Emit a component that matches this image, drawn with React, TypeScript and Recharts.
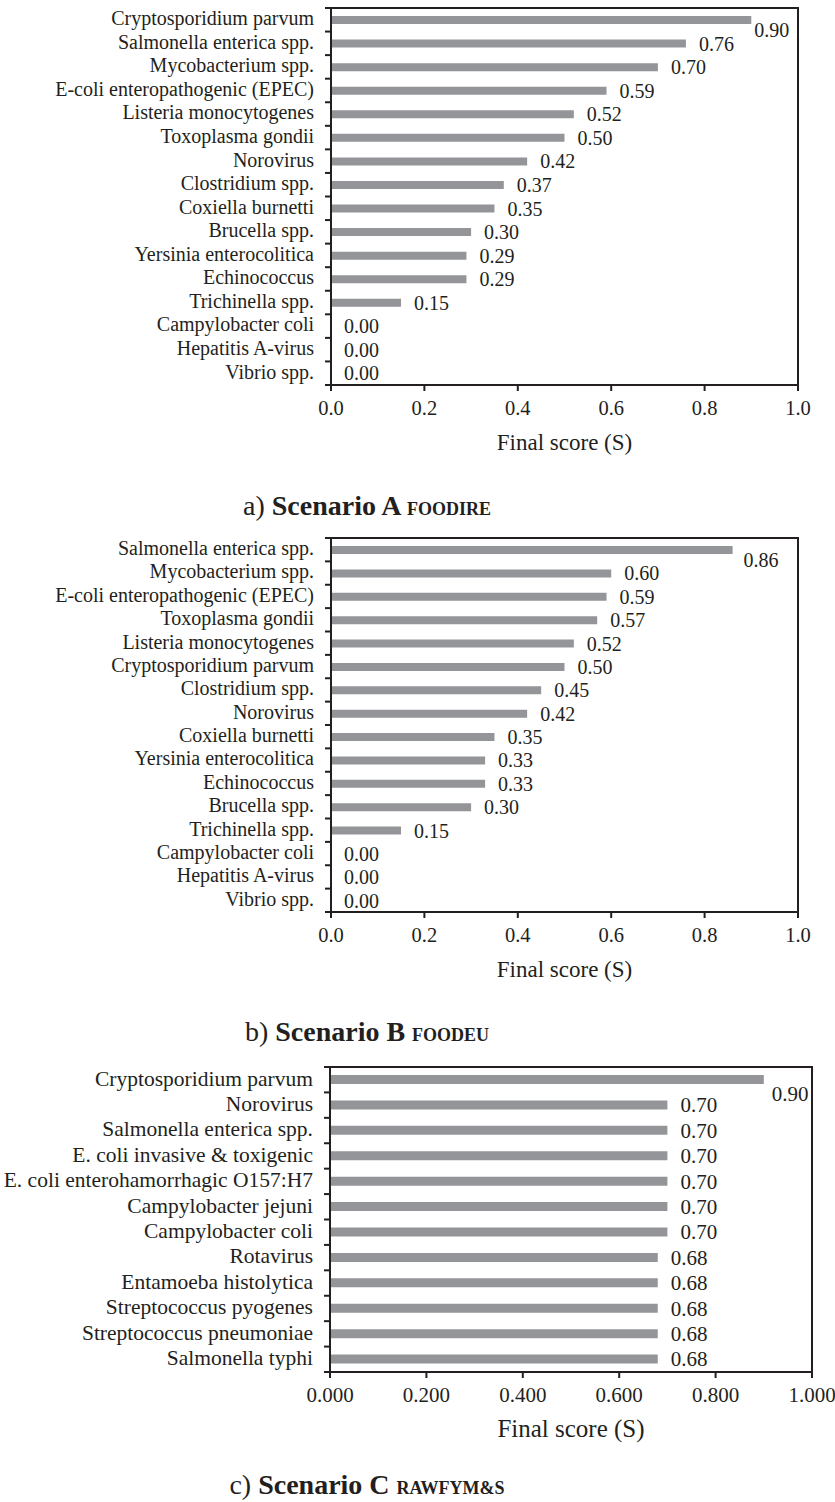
import React from 'react';
import { BarChart, Bar, XAxis, YAxis, LabelList, ReferenceArea, Label } from 'recharts';

// Scenario A (FOODIRE)
const pathogensA = [
  'Cryptosporidium parvum',
  'Salmonella enterica spp.',
  'Mycobacterium spp.',
  'E-coli enteropathogenic (EPEC)',
  'Listeria monocytogenes',
  'Toxoplasma gondii',
  'Norovirus',
  'Clostridium spp.',
  'Coxiella burnetti',
  'Brucella spp.',
  'Yersinia enterocolitica',
  'Echinococcus',
  'Trichinella spp.',
  'Campylobacter coli',
  'Hepatitis A-virus',
  'Vibrio spp.',
];
const scoresA = [0.9, 0.76, 0.7, 0.59, 0.52, 0.5, 0.42, 0.37, 0.35, 0.3, 0.29, 0.29, 0.15, 0, 0, 0];

// Scenario B (FOODEU)
const pathogensB = [
  'Salmonella enterica spp.',
  'Mycobacterium spp.',
  'E-coli enteropathogenic (EPEC)',
  'Toxoplasma gondii',
  'Listeria monocytogenes',
  'Cryptosporidium parvum',
  'Clostridium spp.',
  'Norovirus',
  'Coxiella burnetti',
  'Yersinia enterocolitica',
  'Echinococcus',
  'Brucella spp.',
  'Trichinella spp.',
  'Campylobacter coli',
  'Hepatitis A-virus',
  'Vibrio spp.',
];
const scoresB = [0.86, 0.6, 0.59, 0.57, 0.52, 0.5, 0.45, 0.42, 0.35, 0.33, 0.33, 0.3, 0.15, 0, 0, 0];

// Scenario C (RAWFYM&S)
const pathogensC = [
  'Cryptosporidium parvum',
  'Norovirus',
  'Salmonella enterica spp.',
  'E. coli invasive & toxigenic',
  'E. coli enterohamorrhagic O157:H7',
  'Campylobacter jejuni',
  'Campylobacter coli',
  'Rotavirus',
  'Entamoeba histolytica',
  'Streptococcus pyogenes',
  'Streptococcus pneumoniae',
  'Salmonella typhi',
];
const scoresC = [0.9, 0.7, 0.7, 0.7, 0.7, 0.7, 0.7, 0.68, 0.68, 0.68, 0.68, 0.68];

const scoreTicks = [0, 0.2, 0.4, 0.6, 0.8, 1.0];

const FONT = '"Liberation Serif", "Times New Roman", serif';
const INK = '#231f20';
const BAR = '#939598';

type PanelProps = {
  names: string[];
  values: number[];
  top: number;
  height: number;
  plotLeft: number;
  plotRight: number;
  barSize: number;
  labelSize: number;
  valueSize: number;
  tickSize: number;
  titleSize: number;
  tickDigits: number;
  firstGap: number;
  firstDrop: number;
};

function Panel(p: PanelProps) {
  const data = p.names.map((name, i) => ({ name, score: p.values[i] }));
  const marginTop = 8;
  const axisHeight = 85;
  const plotHeight = p.height - marginTop - axisHeight;
  const band = plotHeight / data.length;

  const CategoryTick = (props: any) => {
    const { y, payload, index } = props;
    const ax = p.plotLeft;
    return (
      <g>
        <text
          x={ax - 17}
          y={y + p.labelSize * 0.27}
          textAnchor="end"
          fontFamily={FONT}
          fontSize={p.labelSize}
          fill={INK}
        >
          {payload.value}
        </text>
        {index === 0 && (
          <line x1={ax - 6} x2={ax} y1={y - band / 2} y2={y - band / 2} stroke={INK} strokeWidth={2} />
        )}
        <line x1={ax - 6} x2={ax} y1={y + band / 2} y2={y + band / 2} stroke={INK} strokeWidth={2} />
      </g>
    );
  };

  const ScoreTick = (props: any) => {
    const { x, y, payload } = props;
    return (
      <text
        x={x}
        y={y + 22}
        textAnchor="middle"
        fontFamily={FONT}
        fontSize={p.tickSize}
        fill={INK}
      >
        {Number(payload.value).toFixed(p.tickDigits)}
      </text>
    );
  };

  const ValueLabel = (props: any) => {
    const { x, y, width, height, value, index } = props;
    const gap = index === 0 ? p.firstGap : 13;
    const drop = index === 0 ? p.firstDrop : 0;
    return (
      <text
        x={x + width + gap}
        y={y + height / 2 + p.valueSize * 0.35 + drop}
        fontFamily={FONT}
        fontSize={p.valueSize}
        fill={INK}
      >
        {Number(value).toFixed(2)}
      </text>
    );
  };

  const AxisTitle = (props: any) => {
    const vb = props.viewBox || {};
    return (
      <text
        x={vb.x + vb.width / 2}
        y={vb.y + 65}
        textAnchor="middle"
        fontFamily={FONT}
        fontSize={p.titleSize}
        fill={INK}
      >
        Final score (S)
      </text>
    );
  };

  // zero scores still need a (hair-thin) rectangle so their value label is laid out
  const zeroSafe = (value: number) => (value === 0 ? 0.01 : 0);

  return (
    <div style={{ position: 'absolute', left: 0, top: p.top }}>
      <BarChart
        layout="vertical"
        width={835}
        height={p.height}
        data={data}
        margin={{ top: marginTop, right: 835 - p.plotRight, bottom: 0, left: 0 }}
      >
        <XAxis
          type="number"
          domain={[0, 1]}
          ticks={scoreTicks}
          interval={0}
          height={axisHeight}
          axisLine={{ stroke: INK, strokeWidth: 2 }}
          tickLine={{ stroke: INK, strokeWidth: 2 }}
          tickSize={6}
          tick={<ScoreTick />}
        >
          <Label content={<AxisTitle />} />
        </XAxis>
        <YAxis
          type="category"
          dataKey="name"
          width={p.plotLeft}
          interval={0}
          axisLine={{ stroke: INK, strokeWidth: 2 }}
          tickLine={false}
          tick={<CategoryTick />}
        />
        <ReferenceArea x1={0} x2={1} fill="none" stroke={INK} strokeWidth={2} ifOverflow="visible" />
        <Bar
          dataKey="score"
          fill={BAR}
          barSize={p.barSize}
          minPointSize={zeroSafe as any}
          isAnimationActive={false}
        >
          <LabelList dataKey="score" content={<ValueLabel />} />
        </Bar>
      </BarChart>
    </div>
  );
}

function Caption({ y, letter, scenario, tag }: { y: number; letter: string; scenario: string; tag: string }) {
  return (
    <text x={367} y={y} textAnchor="middle" fontFamily={FONT} fill={INK}>
      <tspan fontSize={28}>{letter}) </tspan>
      <tspan fontSize={28} fontWeight="bold">{scenario} </tspan>
      <tspan fontSize={18} fontWeight="bold">{tag}</tspan>
    </text>
  );
}

export default function App() {
  return (
    <div
      style={{
        position: 'absolute',
        left: 0,
        top: 0,
        width: 835,
        height: 1502,
        background: '#fff',
        overflow: 'hidden',
      }}
    >
      <Panel
        names={pathogensA}
        values={scoresA}
        top={0}
        height={470}
        plotLeft={331}
        plotRight={798}
        barSize={8}
        labelSize={20}
        valueSize={20}
        tickSize={20.5}
        titleSize={23}
        tickDigits={1}
        firstGap={3}
        firstDrop={10}
      />
      <Panel
        names={pathogensB}
        values={scoresB}
        top={530}
        height={467}
        plotLeft={331}
        plotRight={798}
        barSize={8}
        labelSize={20}
        valueSize={20}
        tickSize={20.5}
        titleSize={23}
        tickDigits={1}
        firstGap={11}
        firstDrop={10}
      />
      <Panel
        names={pathogensC}
        values={scoresC}
        top={1059}
        height={398}
        plotLeft={330}
        plotRight={812}
        barSize={9}
        labelSize={21.5}
        valueSize={21}
        tickSize={21}
        titleSize={25}
        tickDigits={3}
        firstGap={8}
        firstDrop={14}
      />
      <svg
        width={835}
        height={1502}
        style={{ position: 'absolute', left: 0, top: 0, pointerEvents: 'none' }}
      >
        <Caption y={515} letter="a" scenario="Scenario A" tag="FOODIRE" />
        <Caption y={1041} letter="b" scenario="Scenario B" tag="FOODEU" />
        <Caption y={1494} letter="c" scenario="Scenario C" tag="RAWFYM&S" />
      </svg>
    </div>
  );
}
